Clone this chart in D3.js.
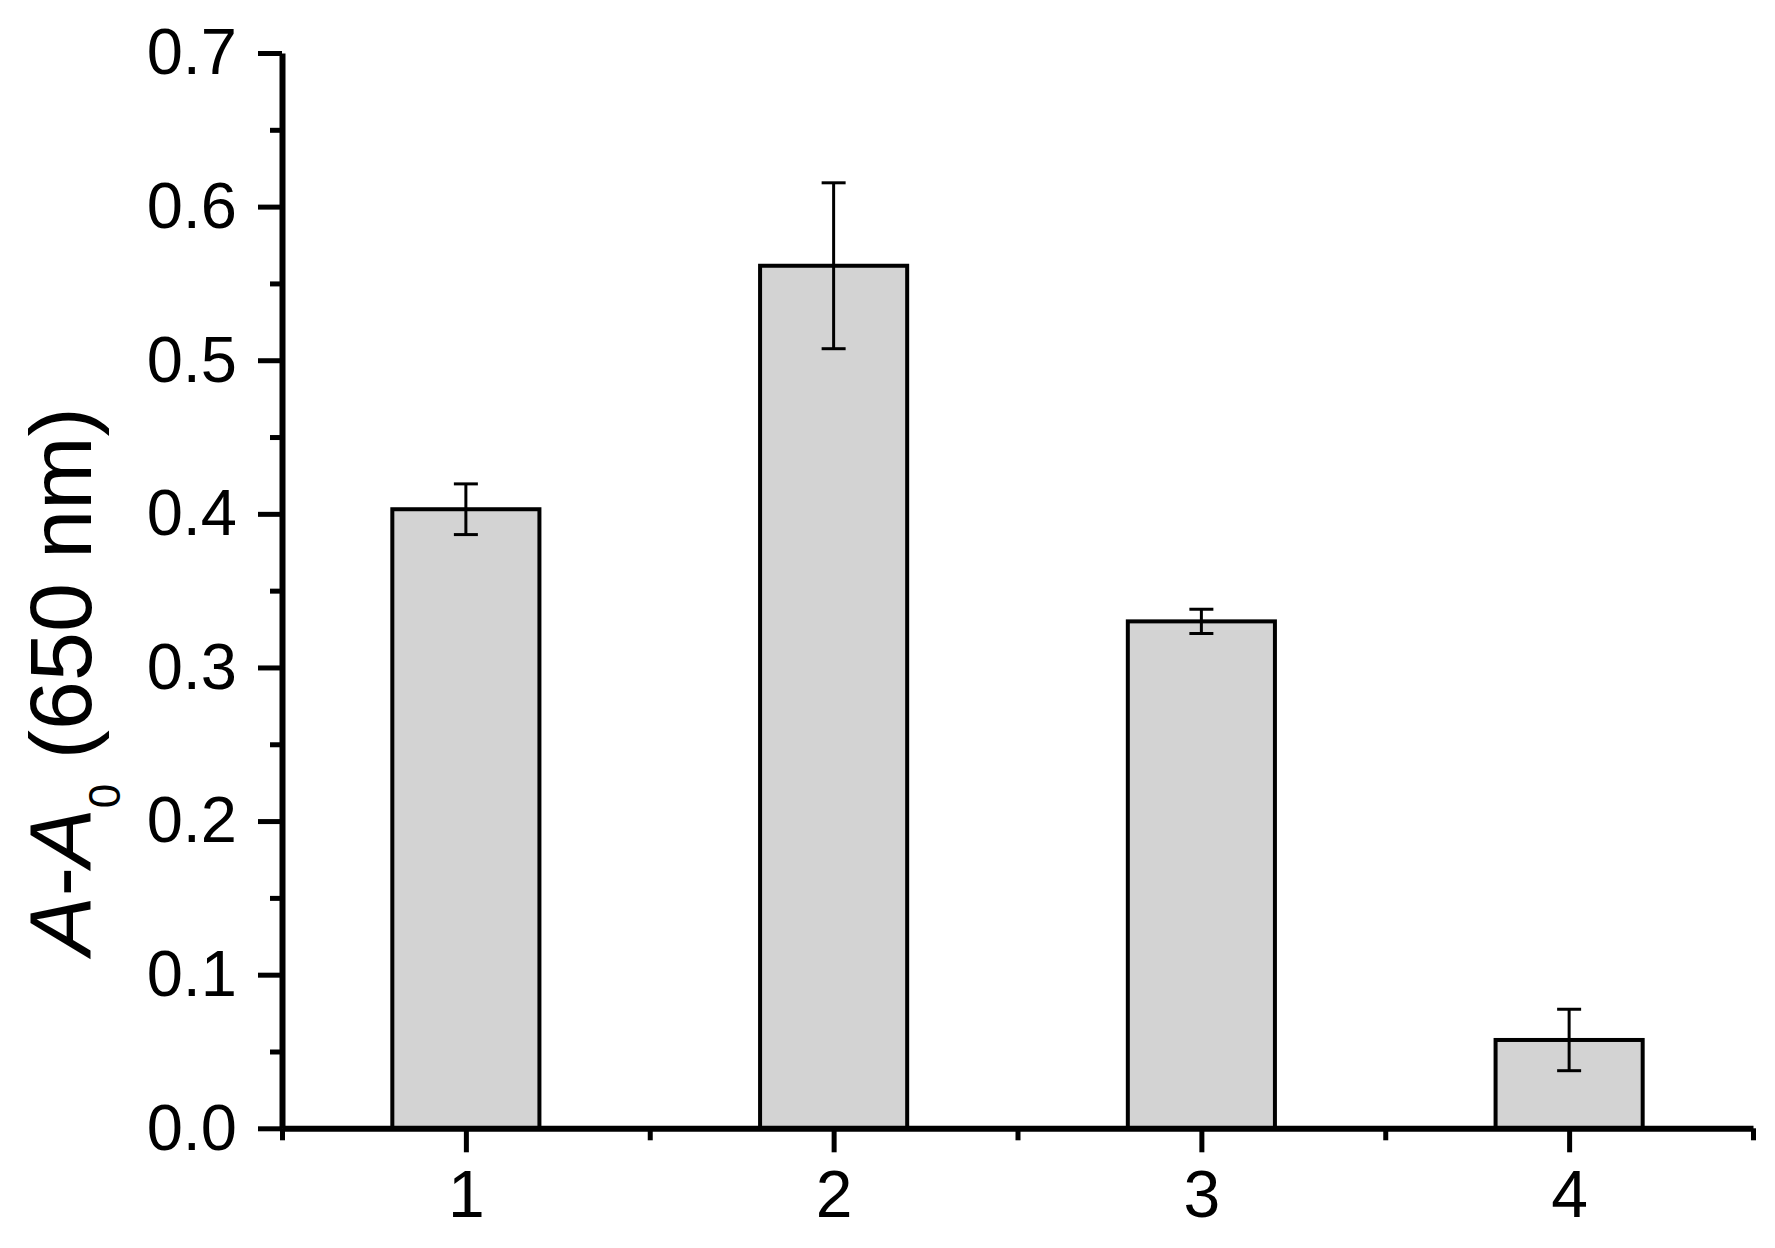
<!DOCTYPE html>
<html>
<head>
<meta charset="utf-8">
<script src="https://cdn.jsdelivr.net/npm/d3@7/dist/d3.min.js"></script>
<style>
  html, body { margin: 0; padding: 0; background: #fff; }
  svg { display: block; font-family: "Liberation Sans", Arial, sans-serif; }
</style>
</head>
<body>
<svg id="chart" width="1775" height="1248"></svg>
<script>
const categories = [1, 2, 3, 4];
const values = [0.403, 0.5615, 0.330, 0.0575];
const errors = [0.0165, 0.054, 0.0079, 0.020];
const yTicks = [0.0, 0.1, 0.2, 0.3, 0.4, 0.5, 0.6, 0.7];
const yMinorTicks = [0.05, 0.15, 0.25, 0.35, 0.45, 0.55, 0.65];
const xMinorTicks = [0.5, 1.5, 2.5, 3.5, 4.5];

(function () {
const svg = d3.select("#chart");
const mLeft = 282, mRight = 1753, mTop = 53, mBottom = 1128.3;

const x = d3.scaleLinear().domain([0.5, 4.5]).range([mLeft, mRight]);
const y = d3.scaleLinear().domain([0, 0.7]).range([mBottom, mTop]);
const barW = x(0.4) - x(0);

const data = categories.map((c, i) => ({ c, v: values[i], e: errors[i] }));

// bars
svg.append("g").selectAll("rect").data(data).join("rect")
  .attr("x", d => x(d.c) - barW / 2)
  .attr("y", d => y(d.v))
  .attr("width", barW)
  .attr("height", d => y(0) - y(d.v))
  .attr("fill", "#d3d3d3")
  .attr("stroke", "#000")
  .attr("stroke-width", 4);

// error bars
const eg = svg.append("g").attr("stroke", "#000");
const capW = 24;
eg.selectAll("line.v").data(data).join("line").attr("class", "v")
  .attr("x1", d => x(d.c)).attr("x2", d => x(d.c))
  .attr("y1", d => y(d.v + d.e)).attr("y2", d => y(d.v - d.e))
  .attr("stroke-width", 3);
eg.selectAll("line.t").data(data).join("line").attr("class", "t")
  .attr("x1", d => x(d.c) - capW / 2).attr("x2", d => x(d.c) + capW / 2)
  .attr("y1", d => y(d.v + d.e)).attr("y2", d => y(d.v + d.e))
  .attr("stroke-width", 3);
eg.selectAll("line.b").data(data).join("line").attr("class", "b")
  .attr("x1", d => x(d.c) - capW / 2).attr("x2", d => x(d.c) + capW / 2)
  .attr("y1", d => y(d.v - d.e)).attr("y2", d => y(d.v - d.e))
  .attr("stroke-width", 3);

// Y axis
const yAxis = svg.append("g").attr("transform", `translate(${mLeft},0)`)
  .call(d3.axisLeft(y).tickValues(yTicks).tickFormat(d3.format(".1f"))
    .tickSize(24).tickSizeOuter(0).tickPadding(21));
yAxis.select(".domain").attr("stroke-width", 6);
yAxis.selectAll(".tick line").attr("stroke-width", 5);
yAxis.selectAll(".tick text").attr("font-size", 65).attr("fill", "#000")
  .attr("font-family", "'Liberation Sans', Arial, sans-serif");
const yMinor = svg.append("g").attr("transform", `translate(${mLeft},0)`)
  .call(d3.axisLeft(y).tickValues(yMinorTicks).tickFormat("").tickSize(12).tickSizeOuter(0));
yMinor.select(".domain").remove();
yMinor.selectAll(".tick line").attr("stroke-width", 5);

// X axis
const xAxis = svg.append("g").attr("transform", `translate(0,${mBottom})`)
  .call(d3.axisBottom(x).tickValues(categories).tickFormat(d3.format("d"))
    .tickSize(24).tickSizeOuter(0).tickPadding(18));
xAxis.select(".domain").attr("stroke-width", 6);
xAxis.selectAll(".tick line").attr("stroke-width", 5);
xAxis.selectAll(".tick text").attr("font-size", 66).attr("fill", "#000")
  .attr("font-family", "'Liberation Sans', Arial, sans-serif");
const xMinor = svg.append("g").attr("transform", `translate(0,${mBottom})`)
  .call(d3.axisBottom(x).tickValues(xMinorTicks).tickFormat("").tickSize(12).tickSizeOuter(0));
xMinor.select(".domain").remove();
xMinor.selectAll(".tick line").attr("stroke-width", 5);

// Y title
const title = svg.append("text")
  .attr("transform", "translate(91,681) rotate(-90)")
  .attr("text-anchor", "middle")
  .attr("font-size", 88)
  .attr("fill", "#000");
title.append("tspan").attr("font-style", "italic").text("A");
title.append("tspan").text("-");
title.append("tspan").attr("font-style", "italic").text("A");
title.append("tspan").attr("font-size", 44).attr("dy", 29).text("0");
title.append("tspan").attr("dy", -29).text(" (650 nm)");
})();
</script>
</body>
</html>
